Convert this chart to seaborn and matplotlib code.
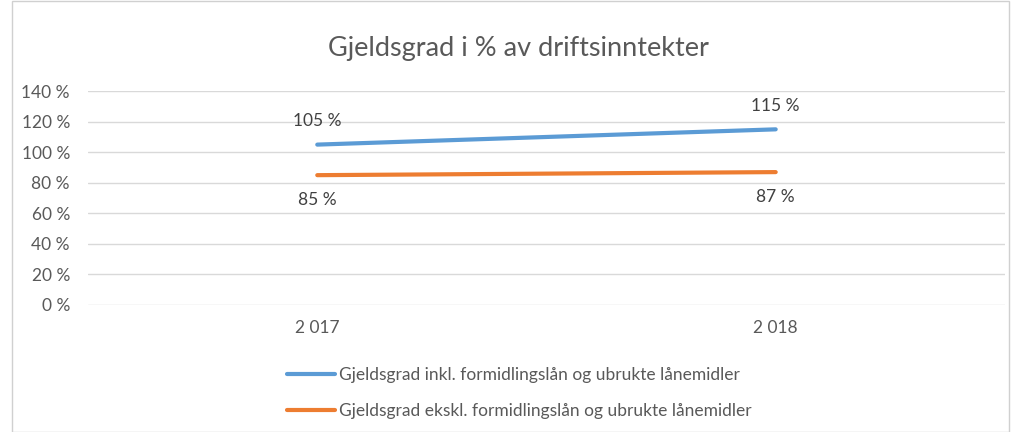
import pandas as pd
import seaborn as sns
import matplotlib.pyplot as plt
from matplotlib.patches import Rectangle

years = ["2 017", "2 018"]
inkl = [105, 115]
ekskl = [85, 87]
series_names = ["Gjeldsgrad inkl. formidlingslån og ubrukte lånemidler",
                "Gjeldsgrad ekskl. formidlingslån og ubrukte lånemidler"]
yticks = [0, 20, 40, 60, 80, 100, 120, 140]

df = pd.DataFrame({
    "År": years * 2,
    "Verdi": inkl + ekskl,
    "Serie": [series_names[0]] * 2 + [series_names[1]] * 2,
})

sns.set_style("white")
plt.rcParams['font.family'] = ['Lato', 'DejaVu Sans']
grey = '#595959'

fig = plt.figure(figsize=(10.12, 4.32), dpi=100)
ax = fig.add_axes([0.087, 0.294, 0.906, 0.495])
fig.patches.append(Rectangle((0.012, 0.0), 0.985, 0.998, transform=fig.transFigure,
                             fill=False, edgecolor='#d0d0d0', linewidth=1))

sns.lineplot(data=df, x="År", y="Verdi", hue="Serie", palette=['#5B9BD5', '#ED7D31'],
             linewidth=3, ax=ax, sort=False)

ax.set_xlim(-0.5, 1.5)
ax.set_ylim(0, 140)
ax.set_yticks(yticks)
ax.set_yticklabels([f"{v} %" for v in yticks], color=grey, fontsize=12.5)
ax.tick_params(axis='x', colors=grey, labelsize=12.5, length=0, pad=11)
ax.tick_params(axis='y', length=0, pad=13)
ax.grid(axis='y', color='#d9d9d9', linewidth=1)
ax.set_axisbelow(True)
for s in ax.spines.values():
    s.set_visible(False)
ax.set_xlabel("")
ax.set_ylabel("")

for i, v in enumerate(inkl):
    ax.annotate(f"{v} %", (i, v), xytext=(0, 11), textcoords='offset points',
                ha='center', va='bottom', fontsize=12.5, color='#404040')
for i, v in enumerate(ekskl):
    ax.annotate(f"{v} %", (i, v), xytext=(0, -12), textcoords='offset points',
                ha='center', va='top', fontsize=12.5, color='#404040')

fig.text(0.512, 0.888, "Gjeldsgrad i % av driftsinntekter", ha='center', va='center',
         fontsize=19.5, color=grey)

handles, labels = ax.get_legend_handles_labels()
ax.legend(handles, labels, loc='upper center', bbox_to_anchor=(0.47, -0.215), ncol=1,
          frameon=False, fontsize=12.5, labelcolor=grey, handlelength=2.8,
          handletextpad=0.2, labelspacing=1.2)

fig.savefig("out.png", dpi=100)
